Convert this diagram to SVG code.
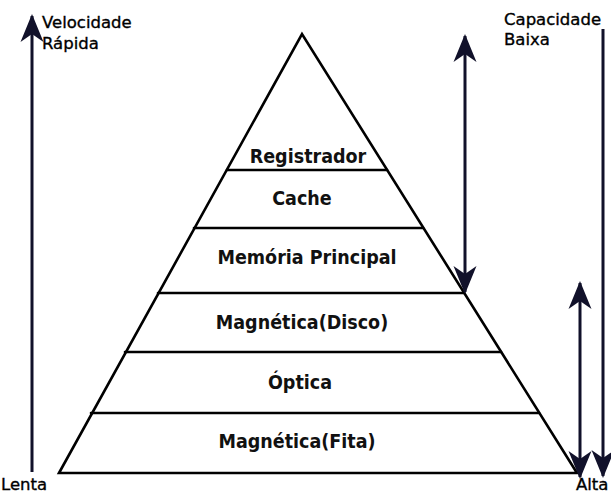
<svg xmlns="http://www.w3.org/2000/svg" width="611" height="495" viewBox="0 0 611 495">
  <style>
    .edge { stroke: #000; stroke-width: 2.6; fill: none; stroke-linecap: round; }
    .arrow { stroke: #11112a; stroke-width: 3; fill: none; }
    .level { font-family: "DejaVu Sans Condensed", "DejaVu Sans", sans-serif; font-weight: bold; font-size: 19.5px; fill: #111; text-anchor: middle; }
    .axis { font-family: "DejaVu Sans", sans-serif; font-size: 16.5px; fill: #000; stroke: #000; stroke-width: 0.35; }
  </style>
  <defs>
    <marker id="head" viewBox="0 0 28 24" refX="26" refY="12" markerWidth="28" markerHeight="24" markerUnits="userSpaceOnUse" orient="auto-start-reverse">
      <path d="M0,0.5 L28,12 L0,23.5 L8,12 Z" fill="#11112a"/>
    </marker>
  </defs>
  <rect width="611" height="495" fill="#fff"/>

  <!-- pyramid outline and level dividers -->
  <g id="pyramid">
    <path class="edge" d="M59,473 L302,34 L577,473 Z"/>
    <line class="edge" x1="227" y1="170" x2="387" y2="170"/>
    <line class="edge" x1="194" y1="228" x2="423" y2="228"/>
    <line class="edge" x1="158" y1="293" x2="464" y2="293"/>
    <line class="edge" x1="125" y1="352" x2="501" y2="352"/>
    <line class="edge" x1="91" y1="413" x2="539" y2="413"/>
  </g>

  <g id="registrador"><text class="level" x="308" y="163">Registrador</text></g>
  <g id="cache"><text class="level" x="302" y="205">Cache</text></g>
  <g id="memoria-principal"><text class="level" x="307" y="264">Memória Principal</text></g>
  <g id="magnetica-disco"><text class="level" x="302" y="329">Magnética(Disco)</text></g>
  <g id="optica"><text class="level" x="300" y="389">Óptica</text></g>
  <g id="magnetica-fita"><text class="level" x="297" y="448">Magnética(Fita)</text></g>

  <!-- axis arrows -->
  <g id="connectors">
    <line class="arrow" x1="32" y1="472" x2="32" y2="16" marker-end="url(#head)"/>
    <line class="arrow" x1="603" y1="29" x2="603" y2="476" marker-end="url(#head)"/>
    <line class="arrow" x1="465" y1="36" x2="465" y2="292" marker-start="url(#head)" marker-end="url(#head)"/>
    <line class="arrow" x1="580" y1="283" x2="580" y2="477" marker-start="url(#head)" marker-end="url(#head)"/>
  </g>

  <g id="labels">
    <text class="axis" x="42" y="28">Velocidade</text>
    <text class="axis" x="42" y="49">Rápida</text>
    <text class="axis" x="504" y="25">Capacidade</text>
    <text class="axis" x="504" y="45">Baixa</text>
    <text class="axis" x="1" y="490">Lenta</text>
    <text class="axis" x="576" y="490" font-size="15.5">Alta</text>
  </g>
</svg>
